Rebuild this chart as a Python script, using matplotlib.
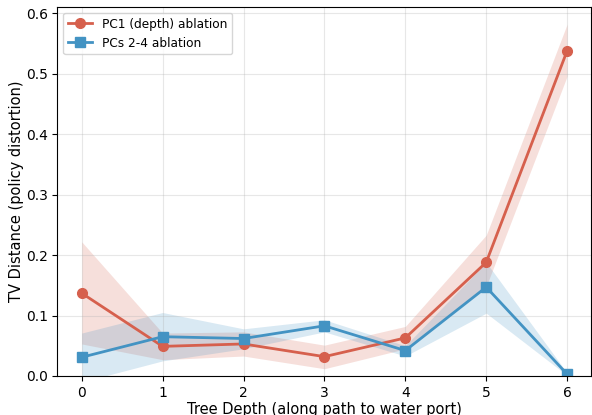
import numpy as np
import matplotlib.pyplot as plt

depths = [0, 1, 2, 3, 4, 5, 6]

pc1_mean = [0.137, 0.049, 0.053, 0.032, 0.063, 0.188, 0.538]
pc1_lo = [0.053, 0.027, 0.033, 0.012, 0.045, 0.148, 0.496]
pc1_hi = [0.222, 0.071, 0.073, 0.051, 0.082, 0.233, 0.582]

pc24_mean = [0.031, 0.065, 0.062, 0.083, 0.042, 0.147, 0.003]
pc24_lo = [-0.010, 0.025, 0.045, 0.073, 0.033, 0.104, 0.001]
pc24_hi = [0.071, 0.105, 0.078, 0.093, 0.050, 0.188, 0.005]

red = "#d6604d"
blue = "#4393c3"

fig, ax = plt.subplots(figsize=(5.92, 4.15), dpi=100)

ax.plot(depths, pc1_mean, "-o", color=red, lw=2, ms=7, label="PC1 (depth) ablation")
ax.fill_between(depths, pc1_lo, pc1_hi, color=red, alpha=0.2, lw=0)
ax.plot(depths, pc24_mean, "-s", color=blue, lw=2, ms=7, label="PCs 2-4 ablation")
ax.fill_between(depths, pc24_lo, pc24_hi, color=blue, alpha=0.2, lw=0)

ax.set_xlim(-0.3, 6.3)
ax.set_ylim(0, 0.611)
ax.set_xticks(depths)
ax.set_xlabel("Tree Depth (along path to water port)", fontsize=10.5, labelpad=2)
ax.set_ylabel("TV Distance (policy distortion)", fontsize=10.5, labelpad=1)
ax.grid(True, alpha=0.3)
ax.legend(loc="upper left", fontsize=8.7)

fig.subplots_adjust(left=0.097, right=0.999, top=0.984, bottom=0.094)
fig.savefig("out.png", dpi=100)
